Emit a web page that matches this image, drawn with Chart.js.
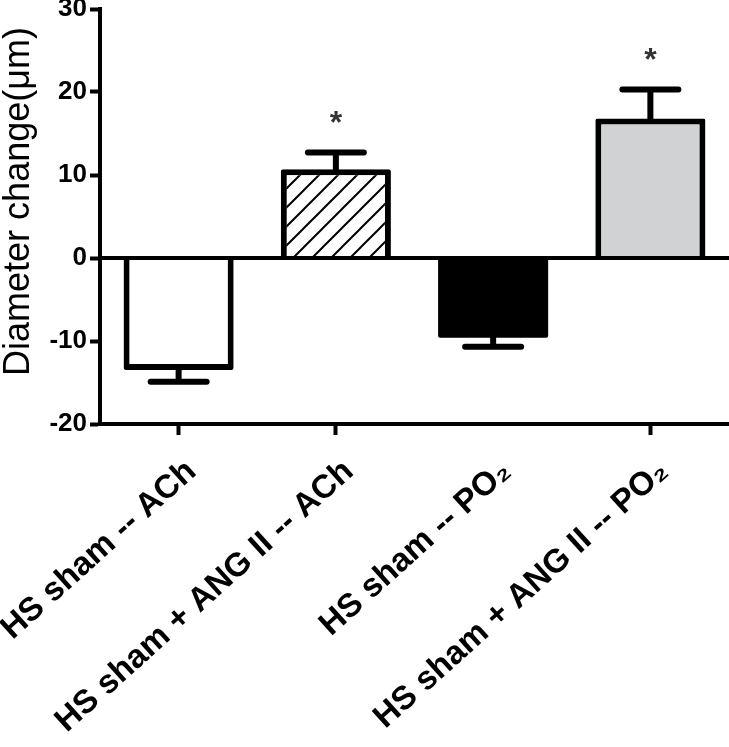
<!DOCTYPE html>
<html>
<head>
<meta charset="utf-8">
<script src="https://cdn.jsdelivr.net/npm/chart.js@4.4.1/dist/chart.umd.min.js"></script>
<style>
  html, body { margin: 0; padding: 0; background: #fff; }
  #wrap { width: 729px; height: 747px; position: relative; }
</style>
</head>
<body>
<div id="wrap"><canvas id="diamChart"></canvas></div>
<script>
// values (µm)
const groups = ['HS sham -- ACh', 'HS sham + ANG II -- ACh', 'HS sham -- PO\u2082', 'HS sham + ANG II -- PO\u2082'];
const meanChange = [-13.5, 10.7, -9.6, 16.8];
const errorEnd = [-14.9, 12.7, -10.7, 20.3];
const significant = [false, true, false, true];
const yTicks = [-20, -10, 0, 10, 20, 30];
const xTickShown = [true, true, false, true];
const yTitle = 'Diameter change(\u03bcm)';

const FONT = '"Liberation Sans", Arial, Helvetica, sans-serif';

// diagonal hatch for the ANG II -- ACh bar
function makeHatch() {
    const s = 19;
    const c = document.createElement('canvas');
    c.width = s; c.height = s;
    const g = c.getContext('2d');
    g.fillStyle = '#fff';
    g.fillRect(0, 0, s, s);
    g.strokeStyle = '#000';
    g.lineWidth = 2;
    g.beginPath();
    g.moveTo(-2, s + 2); g.lineTo(s + 2, -2);
    g.moveTo(-2, 2); g.lineTo(2, -2);
    g.moveTo(s - 2, s + 2); g.lineTo(s + 2, s - 2);
    g.stroke();
    return g.createPattern(c, 'repeat');
}

// zero line on top of bars, error bars, asterisks, y title
const extras = {
    id: 'extras',
    afterDatasetsDraw(chart) {
        const ctx = chart.ctx;
        const y = chart.scales.y;
        const area = chart.chartArea;
        const meta = chart.getDatasetMeta(0);
        ctx.save();
        ctx.strokeStyle = '#000';

        const y0 = y.getPixelForValue(0);
        ctx.lineWidth = 4;
        ctx.beginPath();
        ctx.moveTo(area.left, y0);
        ctx.lineTo(area.right, y0);
        ctx.stroke();

        ctx.lineWidth = 6;
        ctx.lineCap = 'round';
        meta.data.forEach((bar, i) => {
            const yEnd = y.getPixelForValue(errorEnd[i]);
            ctx.beginPath();
            ctx.moveTo(bar.x, bar.y);
            ctx.lineTo(bar.x, yEnd);
            ctx.moveTo(bar.x - 28, yEnd);
            ctx.lineTo(bar.x + 28, yEnd);
            ctx.stroke();
            if (significant[i]) {
                ctx.fillStyle = '#333';
                ctx.font = 'bold 32px ' + FONT;
                ctx.textAlign = 'center';
                ctx.textBaseline = 'middle';
                ctx.fillText('*', bar.x, yEnd - 28);
            }
        });

        ctx.translate(29, (area.top + area.bottom) / 2 - 15);
        ctx.rotate(-Math.PI / 2);
        ctx.fillStyle = '#000';
        ctx.font = '36px ' + FONT;
        ctx.textAlign = 'center';
        ctx.textBaseline = 'alphabetic';
        ctx.fillText(yTitle, 0, 0);
        ctx.restore();
    }
};

const ctx = document.getElementById('diamChart').getContext('2d');

new Chart(ctx, {
    type: 'bar',
    data: {
        labels: groups,
        datasets: [{
            data: meanChange,
            backgroundColor: ['#ffffff', makeHatch(), '#000000', '#d1d2d4'],
            borderColor: '#000',
            borderWidth: [6, 6, 0, 6],
            borderRadius: 2,
            borderSkipped: 'start',
            barPercentage: 0.7,
            categoryPercentage: 1.0
        }]
    },
    options: {
        responsive: true,
        maintainAspectRatio: false,
        animation: false,
        layout: { padding: { top: 9, right: 0, bottom: 0, left: 0 } },
        plugins: {
            legend: { display: false },
            tooltip: { enabled: false }
        },
        scales: {
            x: {
                border: { display: true, color: '#000', width: 4 },
                grid: {
                    offset: false,
                    drawOnChartArea: false,
                    drawTicks: true,
                    tickLength: 11,
                    tickWidth: 4,
                    tickColor: xTickShown.map(v => v ? '#000' : 'rgba(0,0,0,0)')
                },
                ticks: {
                    autoSkip: false,
                    minRotation: 42,
                    maxRotation: 42,
                    padding: 17,
                    labelOffset: 13,
                    color: '#000',
                    font: { family: FONT, size: 33, weight: 'bold' }
                },
                afterFit(scale) {
                    scale.height = 323;
                    scale.paddingLeft = 0;
                    scale.paddingRight = 0;
                }
            },
            y: {
                min: -20,
                max: 30,
                afterBuildTicks(scale) {
                    scale.ticks = yTicks.map(v => ({ value: v }));
                },
                border: { display: true, color: '#000', width: 4 },
                grid: {
                    drawOnChartArea: false,
                    tickColor: '#000',
                    tickLength: 10,
                    tickWidth: 4
                },
                ticks: {
                    padding: 3,
                    color: '#000',
                    font: { family: FONT, size: 26, weight: 'bold' }
                },
                title: { display: false },
                afterFit(scale) {
                    scale.width = 100;
                    scale.paddingTop = 0;
                    scale.paddingBottom = 0;
                }
            }
        }
    },
    plugins: [extras]
});
</script>
</body>
</html>
